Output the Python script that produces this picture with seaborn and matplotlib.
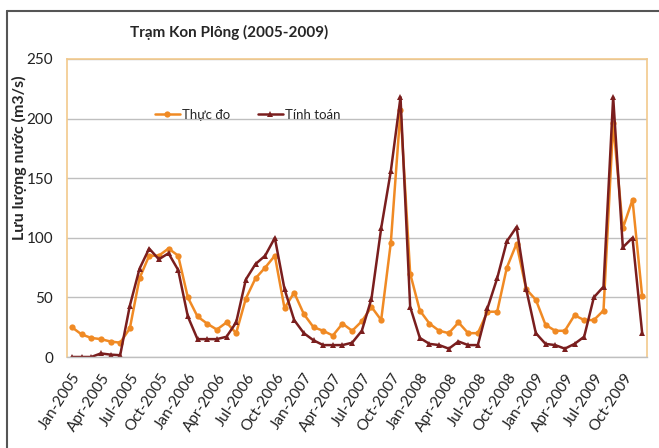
import numpy as np
import pandas as pd
import matplotlib
matplotlib.use("Agg")
import matplotlib.pyplot as plt
from matplotlib.lines import Line2D
import seaborn as sns

# Du lieu thang (Jan-2005 .. Dec-2009)
months = pd.date_range("2005-01-01", "2009-12-01", freq="MS")
thuc_do = [25, 19, 16, 15, 13, 12, 24, 66, 85, 85, 91, 85,
           50, 34, 28, 23, 29, 20, 49, 66, 75, 85, 41, 54,
           36, 25, 22, 18, 28, 22, 30, 42, 31, 96, 207, 70,
           39, 28, 22, 20, 29, 20, 20, 38, 38, 75, 95, 57,
           48, 27, 22, 22, 35, 31, 31, 39, 196, 108, 132, 51]
tinh_toan = [0, 0, 0, 3, 2, 1.5, 43, 74, 91, 82, 87, 73,
             34, 15, 15, 15, 17, 29, 65, 78, 85, 100, 57, 31,
             20, 14, 10, 10, 10, 12, 22, 49, 108, 156, 218, 42,
             16, 11, 10, 7, 13, 10, 10, 41, 66, 97, 109, 57,
             20, 11, 10, 7, 11, 17, 50, 59, 218, 92, 100, 20]
series_names = ["Thực đo", "Tính toán"]
colors = ["#F08A24", "#7A1E1E"]
tick_labels = [m.strftime("%b-%Y") for m in months[::3]]

df = pd.DataFrame({
    "idx": np.tile(np.arange(len(months)), 2),
    "value": thuc_do + tinh_toan,
    "series": np.repeat(series_names, len(months)),
})

sns.set_style("white")
plt.rcParams["font.family"] = ["Lato", "DejaVu Sans"]

fig = plt.figure(figsize=(6.59, 4.48), dpi=100)
ax = fig.add_axes([67 / 659, 1 - 357 / 448, 580 / 659, 298 / 448])

sns.lineplot(data=df, x="idx", y="value", hue="series", style="series",
             palette=dict(zip(series_names, colors)),
             markers={"Thực đo": "o", "Tính toán": "^"},
             dashes=False, markersize=4.5, markeredgewidth=0, linewidth=1.8,
             ax=ax, legend=False)

ax.set_xlim(-0.5, len(months) - 0.5)
ax.set_ylim(0, 250)
ax.set_yticks(np.arange(0, 251, 50))
ax.yaxis.grid(True, color="#BFBFBF", linewidth=1)
ax.set_axisbelow(True)
ax.set_xlabel("")
ax.set_ylabel("")

ax.set_xticks(np.arange(0, len(months), 3))
ax.set_xticklabels(tick_labels, rotation=57, ha="right", rotation_mode="anchor",
                   fontsize=11, color="#222222")
ax.set_xticks(np.arange(-0.5, len(months), 3), minor=True)
ax.tick_params(axis="x", which="major", length=0, pad=10)
ax.tick_params(axis="x", which="minor", length=6, color="#BFBFBF", width=1)
ax.tick_params(axis="y", length=0, labelsize=11, colors="#222222", pad=10)

for s in ["top", "right", "left"]:
    ax.spines[s].set_color("#F2C98C")
    ax.spines[s].set_linewidth(1.2)
ax.spines["bottom"].set_color("#BFBFBF")
ax.spines["bottom"].set_linewidth(1)

handles = [Line2D([], [], color=c, marker=m, markersize=4.5, markeredgewidth=0, linewidth=1.8)
           for c, m in zip(colors, ["o", "^"])]
ax.legend(handles, series_names, ncol=2, frameon=False, loc="center",
          bbox_to_anchor=(0.311, 0.812), handlelength=1.9, handletextpad=0.15,
          columnspacing=2.1, fontsize=9.5)

fig.text(229 / 659, 1 - 32 / 448, "Trạm Kon Plông (2005-2009)", ha="center", va="center",
         fontsize=11, fontweight="bold")
fig.text(19 / 659, 1 - 158 / 448, "Lưu lượng nước (m3/s)", rotation=90, ha="center",
         va="center", fontsize=11.5, fontweight="bold")

# khung ngoai
fig.add_artist(Line2D([7 / 659, 1], [1 - 11 / 448] * 2, color="#555555", linewidth=1.5))
fig.add_artist(Line2D([7 / 659] * 2, [0, 1 - 11 / 448], color="#555555", linewidth=1.5))

fig.savefig("out.png", dpi=100)
